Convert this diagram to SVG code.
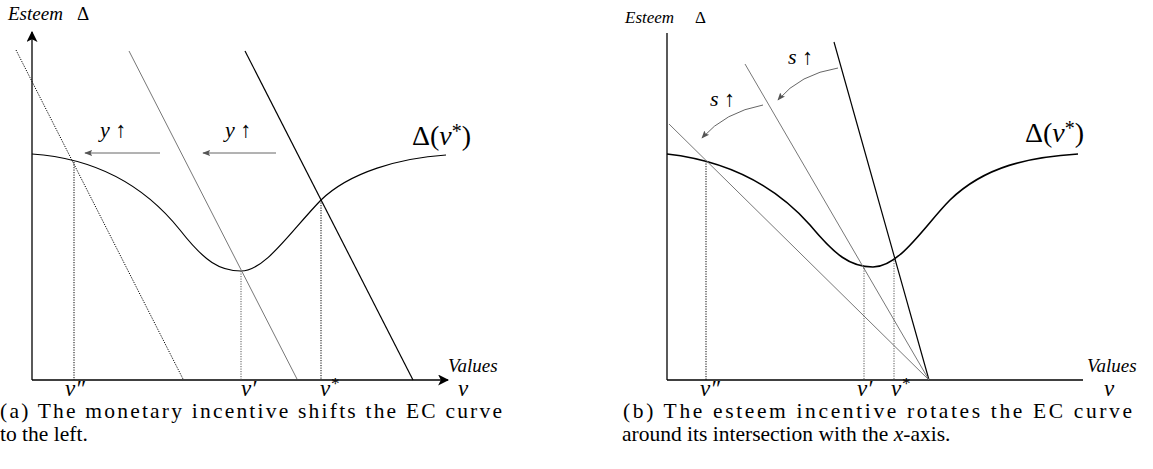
<svg xmlns="http://www.w3.org/2000/svg" width="1153" height="469" viewBox="0 0 1153 469">
<style>
.ax{stroke:#000;stroke-width:1.3;fill:none}
.solid{stroke:#000;stroke-width:1.2;fill:none}
.gray{stroke:#777;stroke-width:1;fill:none}
.dot{stroke:#000;stroke-width:1;stroke-dasharray:1.2 1.3;fill:none}
.dotg{stroke:#555;stroke-width:1;stroke-dasharray:1.2 1.3;fill:none}
.curve{stroke:#000;stroke-width:1.2;fill:none}
.curveb{stroke:#000;stroke-width:1.6;fill:none}
.arr{stroke:#666;stroke-width:1;fill:none}
.lab{font-family:"Liberation Serif","DejaVu Serif",serif;font-style:italic;font-size:19px;fill:#000}
.labs{font-family:"Liberation Serif","DejaVu Serif",serif;font-style:italic;font-size:17px;fill:#000}
.up{font-style:normal}
.math{font-family:"Liberation Serif","DejaVu Serif",serif;font-size:22px;fill:#000}
.tick{font-family:"Liberation Serif","DejaVu Serif",serif;font-size:23px;font-style:italic;fill:#000}
.big{font-family:"Liberation Serif","DejaVu Serif",serif;font-size:28px;fill:#000}
.mi{font-style:italic}
.cap{font-family:"Liberation Serif","DejaVu Serif",serif;font-size:21.5px;fill:#000}
</style>
<defs>
<marker id="ah" viewBox="0 0 10 10" refX="9" refY="5" markerWidth="11" markerHeight="11" markerUnits="userSpaceOnUse" orient="auto">
<path d="M0,0 L10,5 L0,10 L2.5,5 Z" fill="#000"/>
</marker>
<marker id="ahs" viewBox="0 0 10 10" refX="9" refY="5" markerWidth="8" markerHeight="8" markerUnits="userSpaceOnUse" orient="auto">
<path d="M0,1 L10,5 L0,9 L2,5 Z" fill="#555"/>
</marker>
</defs>

<g id="panel-a">
<g id="axes-a">
<line class="ax" x1="32" y1="380" x2="32" y2="32" marker-end="url(#ah)"/>
<line class="ax" x1="32" y1="380" x2="448" y2="380" marker-end="url(#ah)"/>
<text class="lab" x="8" y="20">Esteem</text>
<text class="lab up" x="77" y="20">Δ</text>
<text class="lab" x="448" y="372">Values</text>
<text class="tick" x="458" y="396">v</text>
</g>
<g id="curve-a">
<path class="curve" d="M32,154 C90,158 140,180 180,230 C205,262 220,271 241,271 C265,271 290,232 321,200 C350,172 400,158 446,155"/>
<text class="big" x="412" y="145">Δ(<tspan class="mi">v</tspan><tspan font-size="20" dy="-7">*</tspan><tspan dy="7">)</tspan></text>
</g>
<g id="ec-lines-a">
<line class="dot" x1="16" y1="50" x2="183" y2="379"/>
<line class="gray" x1="129" y1="51" x2="297" y2="379"/>
<line class="solid" x1="245" y1="51" x2="413" y2="380"/>
</g>
<g id="verticals-a">
<line class="dot" x1="74" y1="162" x2="74" y2="380"/>
<line class="dotg" x1="241" y1="271" x2="241" y2="380"/>
<line class="dot" x1="321" y1="200" x2="321" y2="380"/>
<text class="tick" x="65" y="396">v″</text>
<text class="tick" x="241" y="396">v′</text>
<text class="tick" x="320" y="396">v<tspan font-size="17" dy="-7">*</tspan></text>
</g>
<g id="shift-arrows-a">
<line class="arr" x1="160" y1="153" x2="85" y2="153" marker-end="url(#ahs)"/>
<line class="arr" x1="276" y1="153" x2="203" y2="153" marker-end="url(#ahs)"/>
<text class="math" x="100" y="137"><tspan class="mi">y</tspan> ↑</text>
<text class="math" x="225" y="137"><tspan class="mi">y</tspan> ↑</text>
</g>
<g id="caption-a">
<text class="cap" x="0" y="418" textLength="502" lengthAdjust="spacing">(a) The monetary incentive shifts the EC curve</text>
<text class="cap" x="0" y="441">to the left.</text>
</g>
</g>

<g id="panel-b">
<g id="axes-b">
<line class="ax" x1="667" y1="380" x2="667" y2="33"/>
<line class="ax" x1="667" y1="380" x2="1083" y2="380"/>
<text class="labs" x="625" y="23">Esteem</text>
<text class="labs up" x="695" y="23">Δ</text>
<text class="lab" x="1087" y="372">Values</text>
<text class="tick" x="1104" y="396">v</text>
</g>
<g id="curve-b">
<path class="curveb" d="M667,154 C720,160 770,180 810,225 C835,255 850,267 873,267 C900,267 925,225 950,200 C985,166 1030,157 1078,154"/>
<text class="big" x="1025" y="142">Δ(<tspan class="mi">v</tspan><tspan font-size="20" dy="-7">*</tspan><tspan dy="7">)</tspan></text>
</g>
<g id="ec-lines-b">
<line class="solid" x1="834" y1="42" x2="929" y2="380"/>
<line class="gray" x1="745" y1="64" x2="929" y2="380"/>
<line class="gray" x1="669" y1="124" x2="929" y2="380"/>
</g>
<g id="verticals-b">
<line class="dot" x1="706" y1="161" x2="706" y2="380"/>
<line class="dotg" x1="864" y1="268" x2="864" y2="380"/>
<line class="dotg" x1="894" y1="258" x2="894" y2="380"/>
<text class="tick" x="700" y="396">v″</text>
<text class="tick" x="857" y="396">v′</text>
<text class="tick" x="891" y="396">v<tspan font-size="17" dy="-7">*</tspan></text>
</g>
<g id="rotate-arrows-b">
<path class="arr" d="M838,68 Q800,74 778,100" marker-end="url(#ahs)"/>
<path class="arr" d="M763,105 Q725,112 702,138" marker-end="url(#ahs)"/>
<text class="math" x="788" y="64"><tspan class="mi">s</tspan> ↑</text>
<text class="math" x="710" y="106"><tspan class="mi">s</tspan> ↑</text>
</g>
<g id="caption-b">
<text class="cap" x="623" y="418" textLength="509" lengthAdjust="spacing">(b) The esteem incentive rotates the EC curve</text>
<text class="cap" x="622" y="441">around its intersection with the <tspan font-style="italic">x</tspan>-axis.</text>
</g>
</g>
</svg>
